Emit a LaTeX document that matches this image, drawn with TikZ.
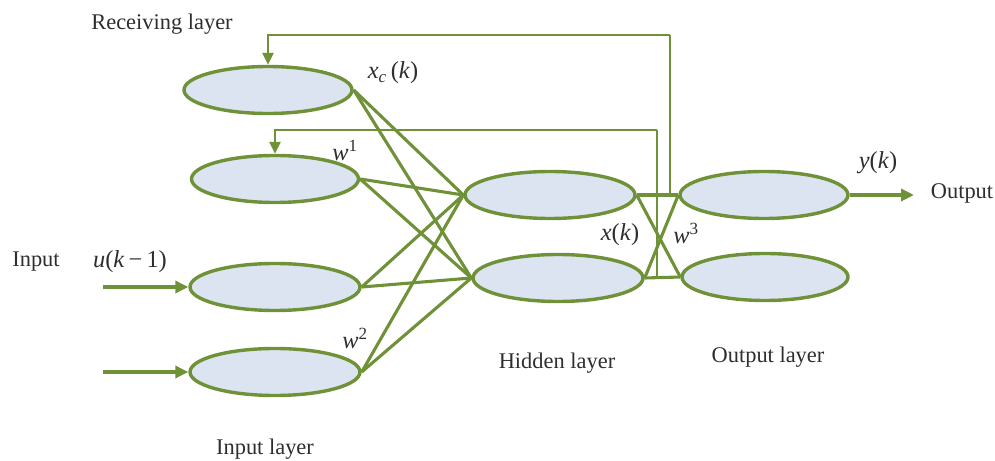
\documentclass[tikz,border=0pt]{standalone}
\usepackage{fontspec}
\setmainfont{Liberation Serif}
\usetikzlibrary{arrows.meta,shapes.geometric}
\definecolor{netgreen}{HTML}{6F9137}
\definecolor{cellfill}{HTML}{DBE4F0}
\definecolor{txt}{HTML}{2E2E2E}
\begin{document}
\begin{tikzpicture}[x=1bp,y=-1bp,
  neuron/.style={ellipse,draw=netgreen,fill=cellfill,line width=3.4bp,
                 minimum width=168bp,minimum height=47bp,inner sep=0pt},
  link/.style={draw=netgreen,line width=3.1bp},
  fb/.style={draw=netgreen,line width=2.6bp,-{Triangle[length=12bp,width=11bp]}},
  fbline/.style={draw=netgreen,line width=2.6bp},
  inarrow/.style={draw=netgreen,line width=3.6bp,-{Triangle[length=13bp,width=12bp]}},
  lbl/.style={text=txt,font=\fontsize{22.5}{26}\selectfont,inner sep=0pt},
  mlbl/.style={text=txt,font=\fontsize{24.5}{28}\selectfont,inner sep=0pt}]
\useasboundingbox (0,0) rectangle (995,461);

% neurons
\node[neuron,minimum width=168bp] (rec) at (268,90) {};
\node[neuron,minimum width=167bp] (i1) at (275,179) {};
\node[neuron,minimum width=170bp] (i2) at (275,287) {};
\node[neuron,minimum width=170bp] (i3) at (275,372) {};
\node[neuron,minimum width=170bp] (h1) at (550,195) {};
\node[neuron,minimum width=170bp] (h2) at (558,278) {};
\node[neuron,minimum width=168bp] (o1) at (764,195) {};
\node[neuron,minimum width=166bp] (o2) at (765,277) {};

% input layer and receiving layer to hidden layer
\foreach \s in {rec,i1,i2,i3}{
  \draw[link] (\s.east) -- (h1.west);
  \draw[link] (\s.east) -- (h2.west);
}
% hidden layer to output layer
\draw[link] (h1.east) -- (o1.west);
\draw[link] (h1.east) -- (o2.west);
\draw[link] (h2.east) -- (o1.west);
\draw[link] (h2.east) -- (o2.west);

% feedback paths
\coordinate (tapA) at (670,195);
\coordinate (topA) at (670,35);
\coordinate (tapB) at (657,278);
\coordinate (topB) at (657,130);
\draw[fbline] (tapA) -- (topA);
\draw[fb] (topA) -| (rec.north);
\draw[fbline] (tapB) -- (topB);
\draw[fb] (topB) -| (i1.north);

% external inputs and output
\coordinate (inA) at (103,287);
\coordinate (inB) at (103,372);
\coordinate (outA) at (914,195);
\draw[inarrow] (inA) -- (i2.west);
\draw[inarrow] (inB) -- (i3.west);
\draw[inarrow] (o1.east) -- (outA);

% labels
\node[lbl] (tRec) at (162,24) {Receiving layer};
\node[lbl] (tIn) at (36,262) {Input};
\node[lbl] (tInL) at (265,449) {Input layer};
\node[lbl] (tHid) at (557,363) {Hidden layer};
\node[lbl] (tOutL) at (768,357) {Output layer};
\node[lbl] (tOut) at (962,193) {Output};
\node[mlbl] (mxc) at (393,73) {\textit{x}\textsubscript{\textit{c}}\,(\textit{k})};
\node[mlbl] (mw1) at (345,150) {\textit{w}\textsuperscript{1}};
\node[mlbl] (mu) at (130,262) {\textit{u}(\textit{k}\,−\,1)};
\node[mlbl] (mw2) at (355,338) {\textit{w}\textsuperscript{2}};
\node[mlbl] (mx) at (620,235) {\textit{x}(\textit{k})};
\node[mlbl] (mw3) at (686,233) {\textit{w}\textsuperscript{3}};
\node[mlbl] (my) at (878,163) {\textit{y}(\textit{k})};
\end{tikzpicture}
\end{document}
